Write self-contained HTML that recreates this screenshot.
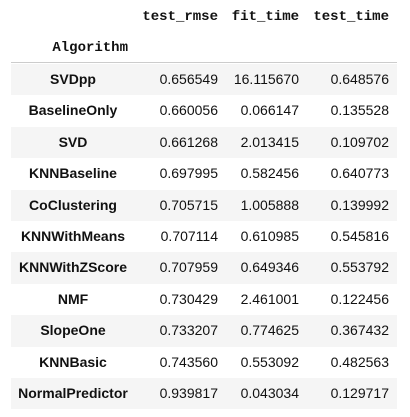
<!DOCTYPE html>
<html><head><meta charset="utf-8"><style>
body{margin:0;width:410px;height:417px;background:#fff;position:relative;overflow:hidden;font-family:"Liberation Sans",Arial,sans-serif;color:#111}
.h{position:absolute;font-family:"Liberation Mono",monospace;font-weight:bold;font-size:14px;line-height:16px;top:9px;width:100px;text-align:right}
.row{position:absolute;left:11px;width:386px;height:31.4px}
.row.g{background:#f5f5f5}
.c{position:absolute;font-size:14px;line-height:31.4px;top:0}
.idx{font-weight:bold;left:0;width:124px;text-align:center}
.n{text-align:right;width:90px}
#sep{position:absolute;left:11px;width:386px;top:62px;height:1px;background:#ccc}
</style></head><body>
<div class="h" style="left:118px">test_rmse</div>
<div class="h" style="left:199px">fit_time</div>
<div class="h" style="left:289px">test_time</div>
<div class="h" style="left:28px;top:40px">Algorithm</div>
<div id="sep"></div>
<div id="tbl"></div>
<script>
const algorithms=["SVDpp","BaselineOnly","SVD","KNNBaseline","CoClustering","KNNWithMeans","KNNWithZScore","NMF","SlopeOne","KNNBasic","NormalPredictor"];
const testRmse=["0.656549","0.660056","0.661268","0.697995","0.705715","0.707114","0.707959","0.730429","0.733207","0.743560","0.939817"];
const fitTime=["16.115670","0.066147","2.013415","0.582456","1.005888","0.610985","0.649346","2.461001","0.774625","0.553092","0.043034"];
const testTime=["0.648576","0.135528","0.109702","0.640773","0.139992","0.545816","0.553792","0.122456","0.367432","0.482563","0.129717"];
const tbl=document.getElementById('tbl');
algorithms.forEach((a,i)=>{
  const r=document.createElement('div');
  r.className='row'+(i%2===0?' g':'');
  r.style.top=(64+i*31.4)+'px';
  
  
  const cells=[[a,'c idx',null],[testRmse[i],'c n',207],[fitTime[i],'c n',288],[testTime[i],'c n',378]];
  cells.forEach(([t,cls,right])=>{
    const d=document.createElement('div');
    d.className=cls;d.textContent=t;
    if(right!==null)d.style.left=(right-90)+'px';
    
    
    r.appendChild(d);
  });
  document.body.appendChild(r);
});
</script>
</body></html>
